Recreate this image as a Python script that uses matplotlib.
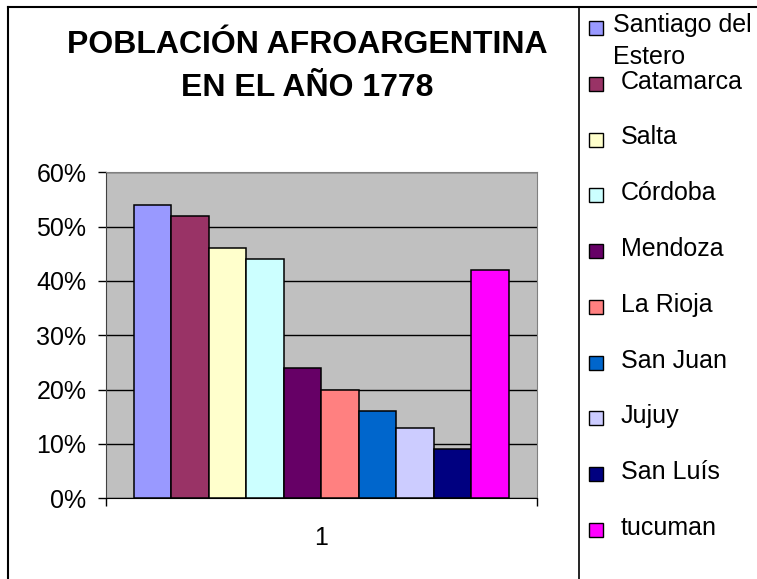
import matplotlib
matplotlib.use('Agg')
import matplotlib.pyplot as plt
import numpy as np
from matplotlib.patches import Rectangle
from matplotlib.lines import Line2D
from matplotlib.ticker import PercentFormatter

provincias = ["Santiago del\nEstero", "Catamarca", "Salta", "Córdoba", "Mendoza",
              "La Rioja", "San Juan", "Jujuy", "San Luís", "tucuman"]
porcentajes = [54, 52, 46, 44, 24, 20, 16, 13, 9, 42]
colores = ["#9999FF", "#993366", "#FFFFCC", "#CCFFFF", "#660066",
           "#FF8080", "#0066CC", "#CCCCFF", "#000080", "#FF00FF"]
titulo = ["POBLACIÓN AFROARGENTINA", "EN EL AÑO 1778"]
categoria = "1"

plt.rcParams['font.family'] = ['Liberation Sans', 'DejaVu Sans']

W, H = 757, 579
fig = plt.figure(figsize=(W / 100, H / 100), dpi=100)
ax = fig.add_axes([105.7 / W, 1 - 498.3 / H, 431.3 / W, 326 / H])
ax.set_facecolor('#C0C0C0')

n = len(porcentajes)
gap = 1.5
w = 1.0 / (n + gap)
x = -0.5 + gap / 2 * w + (np.arange(n) + 0.5) * w
ax.bar(x, porcentajes, width=w, color=colores, edgecolor='black', linewidth=1.1, zorder=3)

ax.set_xlim(-0.5, 0.5)
ax.set_ylim(0, 60)
ax.set_yticks(np.arange(0, 61, 10))
ax.yaxis.set_major_formatter(PercentFormatter(decimals=0))
ax.yaxis.grid(True, color='black', linewidth=1.0, zorder=1)
ax.set_axisbelow(True)
ax.tick_params(axis='y', direction='out', length=6, width=1, pad=8, labelsize=18)

ax.set_xticks([-0.5, 0.5])
ax.set_xticklabels(['', ''])
ax.tick_params(axis='x', which='major', direction='out', length=6, width=1)
ax.set_xticks([0], minor=True)
ax.set_xticklabels([categoria], minor=True)
ax.tick_params(axis='x', which='minor', length=0, pad=20, labelsize=18)

for s in ['top', 'right']:
    ax.spines[s].set_color('#808080')
ax.spines['left'].set_color('#404040')
ax.spines['bottom'].set_color('black')

# titulo
fig.text(307 / W, 1 - 45 / H, titulo[0], ha='center', va='center',
         fontsize=23, fontweight='bold')
fig.text(307 / W, 1 - 88 / H, titulo[1], ha='center', va='center',
         fontsize=23, fontweight='bold')

# marco
fig.add_artist(Line2D([8 / W, 8 / W], [0, 1 - 7 / H], color='black', lw=1.5))
fig.add_artist(Line2D([8 / W, 1], [1 - 7 / H, 1 - 7 / H], color='black', lw=1.5))
fig.add_artist(Line2D([579 / W, 579 / W], [0, 1 - 7 / H], color='black', lw=1.2))

# leyenda
sq = 14
for i, (lab, c) in enumerate(zip(provincias, colores)):
    yc = 28 + i * 55.75
    fig.add_artist(Rectangle((589 / W, 1 - (yc + sq / 2) / H), sq / W, sq / H,
                             facecolor=c, edgecolor='black', lw=1.0,
                             transform=fig.transFigure))
    if i == 0:
        l1, l2 = lab.split('\n')
        fig.text(613 / W, 1 - 25 / H, l1, ha='left', va='center', fontsize=18)
        fig.text(613 / W, 1 - 57 / H, l2, ha='left', va='center', fontsize=18)
    else:
        fig.text(621 / W, 1 - (yc - 2) / H, lab, ha='left', va='center', fontsize=18)

fig.savefig('out.png', dpi=100)
